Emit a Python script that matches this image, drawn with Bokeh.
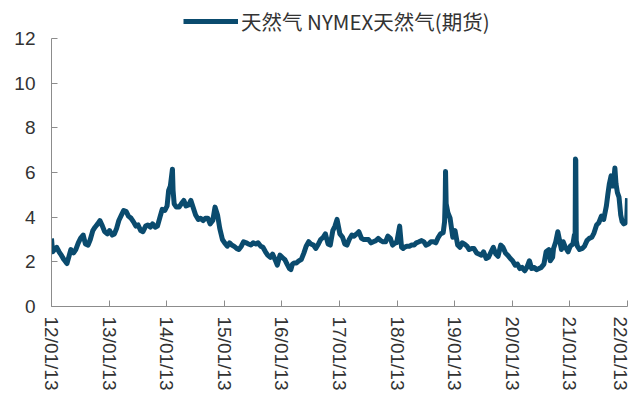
import pandas as pd
from bokeh.plotting import figure
from bokeh.layouts import column
from bokeh.models import Range1d, FixedTicker, Legend, LegendItem, ColumnDataSource
from bokeh.embed import file_html
from bokeh.resources import INLINE

series_name = "天然气 NYMEX天然气(期货)"

dates = [
    "2012-01-13", "2012-01-20", "2012-02-01", "2012-02-15", "2012-03-01", "2012-03-15", "2012-04-01", "2012-04-20",
    "2012-05-01", "2012-05-15", "2012-06-01", "2012-06-15", "2012-07-01", "2012-07-15", "2012-08-01", "2012-08-15",
    "2012-09-01", "2012-09-15", "2012-10-01", "2012-10-15", "2012-11-01", "2012-11-15", "2012-12-01", "2012-12-15",
    "2013-01-01", "2013-01-15", "2013-02-01", "2013-02-15", "2013-03-01", "2013-03-15", "2013-04-01", "2013-04-15",
    "2013-05-01", "2013-05-15", "2013-06-01", "2013-06-15", "2013-07-01", "2013-07-15", "2013-08-01", "2013-08-15",
    "2013-09-01", "2013-09-15", "2013-10-01", "2013-10-15", "2013-11-01", "2013-11-15", "2013-12-01", "2013-12-15",
    "2014-01-01", "2014-01-15", "2014-01-25", "2014-02-05", "2014-02-18", "2014-02-22", "2014-03-01", "2014-03-15",
    "2014-04-01", "2014-04-15", "2014-05-01", "2014-05-15", "2014-06-01", "2014-06-15", "2014-07-01", "2014-07-15",
    "2014-08-01", "2014-08-15", "2014-09-01", "2014-09-15", "2014-10-01", "2014-10-15", "2014-11-01", "2014-11-15",
    "2014-12-01", "2014-12-15",
    "2015-01-01", "2015-01-15", "2015-02-01", "2015-02-15", "2015-03-01", "2015-03-15", "2015-04-01", "2015-04-15",
    "2015-05-01", "2015-05-15", "2015-06-01", "2015-06-15", "2015-07-01", "2015-07-15", "2015-08-01", "2015-08-15",
    "2015-09-01", "2015-09-15", "2015-10-01", "2015-10-15", "2015-11-01", "2015-11-15", "2015-12-01", "2015-12-15",
    "2016-01-01", "2016-01-15", "2016-02-01", "2016-02-15", "2016-03-01", "2016-03-10", "2016-03-20", "2016-04-01",
    "2016-04-15", "2016-05-01", "2016-05-15", "2016-06-01", "2016-06-15", "2016-07-01", "2016-07-15", "2016-08-01",
    "2016-08-15", "2016-09-01", "2016-09-15", "2016-10-01", "2016-10-15", "2016-11-01", "2016-11-15", "2016-12-01",
    "2016-12-15", "2016-12-28",
    "2017-01-15", "2017-02-01", "2017-02-15", "2017-03-01", "2017-03-15", "2017-04-01", "2017-04-15", "2017-05-01",
    "2017-05-15", "2017-06-01", "2017-06-15", "2017-07-01", "2017-07-15", "2017-08-01", "2017-08-15", "2017-09-01",
    "2017-09-15", "2017-10-01", "2017-10-15", "2017-11-01", "2017-11-15", "2017-12-01", "2017-12-15",
    "2018-01-01", "2018-01-10", "2018-01-29", "2018-02-10", "2018-02-20", "2018-03-01", "2018-03-15", "2018-04-01",
    "2018-04-15", "2018-05-01", "2018-05-15", "2018-06-01", "2018-06-15", "2018-07-01", "2018-07-15", "2018-08-01",
    "2018-08-15", "2018-09-01", "2018-09-15", "2018-10-01", "2018-10-15", "2018-11-01", "2018-11-10", "2018-11-14",
    "2018-11-16", "2018-11-20", "2018-12-01", "2018-12-15",
    "2019-01-01", "2019-01-15", "2019-02-01", "2019-02-15", "2019-03-01", "2019-03-15", "2019-04-01", "2019-04-15",
    "2019-05-01", "2019-05-15", "2019-06-01", "2019-06-15", "2019-07-01", "2019-07-15", "2019-08-01", "2019-08-15",
    "2019-09-01", "2019-09-15", "2019-10-01", "2019-10-15", "2019-11-01", "2019-11-15", "2019-12-01", "2019-12-15",
    "2020-01-01", "2020-01-15", "2020-02-01", "2020-02-15", "2020-03-01", "2020-03-15", "2020-04-01", "2020-04-15",
    "2020-05-01", "2020-05-15", "2020-06-01", "2020-06-15", "2020-07-01", "2020-07-15", "2020-08-01", "2020-08-15",
    "2020-09-01", "2020-09-10", "2020-09-25", "2020-10-01", "2020-10-15", "2020-10-28", "2020-11-10", "2020-11-20",
    "2020-12-01", "2020-12-15",
    "2021-01-01", "2021-01-15", "2021-02-01", "2021-02-10", "2021-02-15", "2021-02-17", "2021-02-19", "2021-02-22",
    "2021-03-01", "2021-03-15", "2021-04-01", "2021-04-15", "2021-05-01", "2021-05-15", "2021-06-01", "2021-06-15",
    "2021-07-01", "2021-07-15", "2021-08-01", "2021-08-15", "2021-09-01", "2021-09-10", "2021-09-20", "2021-10-01",
    "2021-10-08", "2021-10-15", "2021-10-25", "2021-11-01", "2021-11-10", "2021-11-20", "2021-12-01", "2021-12-10",
    "2021-12-20",
    "2022-01-01", "2022-01-08", "2022-01-13",
]

prices = [
    3.05, 2.45, 2.55, 2.65, 2.45, 2.30, 2.10, 1.92,
    2.20, 2.55, 2.40, 2.55, 2.85, 3.05, 3.20, 2.80,
    2.75, 3.00, 3.40, 3.55, 3.70, 3.85, 3.60, 3.35,
    3.25, 3.40, 3.20, 3.25, 3.50, 3.85, 4.10, 4.30,
    4.25, 4.05, 3.95, 3.80, 3.60, 3.65, 3.40, 3.35,
    3.60, 3.65, 3.55, 3.70, 3.55, 3.60, 4.00, 4.35,
    4.30, 4.50, 5.20, 5.40, 6.15, 5.20, 4.60, 4.45,
    4.45, 4.60, 4.75, 4.50, 4.55, 4.75, 4.40, 4.10,
    3.90, 3.95, 3.85, 3.95, 3.95, 3.70, 3.85, 4.45,
    4.10, 3.50,
    3.00, 2.85, 2.70, 2.85, 2.75, 2.70, 2.60, 2.55,
    2.70, 2.90, 2.85, 2.80, 2.75, 2.85, 2.80, 2.85,
    2.70, 2.65, 2.45, 2.30, 2.20, 2.35, 2.10, 1.85,
    2.30, 2.20, 2.10, 1.90, 1.70, 1.65, 1.90, 1.95,
    1.95, 2.05, 2.10, 2.40, 2.70, 2.90, 2.80, 2.75,
    2.60, 2.80, 3.00, 3.10, 3.25, 2.80, 2.75, 3.40,
    3.60, 3.90,
    3.25, 3.10, 2.80, 2.75, 3.00, 3.20, 3.15, 3.25,
    3.35, 3.05, 3.00, 3.00, 3.00, 2.85, 2.90, 2.95,
    3.05, 2.95, 2.90, 2.90, 3.15, 3.05, 2.75,
    2.85, 2.85, 3.60, 2.65, 2.60, 2.65, 2.70, 2.70,
    2.75, 2.75, 2.85, 2.90, 2.95, 2.90, 2.75, 2.80,
    2.90, 2.90, 2.85, 3.10, 3.25, 3.30, 3.80, 4.80,
    6.05, 4.60, 4.20, 3.95,
    3.10, 3.40, 2.75, 2.65, 2.85, 2.80, 2.70, 2.55,
    2.60, 2.60, 2.40, 2.35, 2.30, 2.45, 2.15, 2.20,
    2.45, 2.65, 2.35, 2.25, 2.75, 2.65, 2.40, 2.30,
    2.15, 2.05, 1.85, 1.90, 1.70, 1.75, 1.60, 1.75,
    2.05, 1.70, 1.75, 1.65, 1.70, 1.75, 1.90, 2.45,
    2.55, 2.05, 2.20, 2.60, 2.90, 3.35, 2.90, 2.55,
    2.90, 2.65,
    2.45, 2.70, 2.80, 3.20, 3.25, 6.60, 6.55, 2.95,
    2.70, 2.55, 2.60, 2.70, 2.95, 3.05, 3.10, 3.30,
    3.65, 3.75, 4.05, 3.90, 4.50, 5.00, 5.50, 5.85,
    5.40, 5.40, 6.20, 5.50, 5.10, 4.90, 4.10, 3.80,
    3.70,
    3.75, 3.90, 4.85,
]

tick_dates = ["2012-01-13", "2013-01-13", "2014-01-13", "2015-01-13", "2016-01-13", "2017-01-13",
              "2018-01-13", "2019-01-13", "2020-01-13", "2021-01-13", "2022-01-13"]
tick_labels = ["12/01/13", "13/01/13", "14/01/13", "15/01/13", "16/01/13", "17/01/13",
               "18/01/13", "19/01/13", "20/01/13", "21/01/13", "22/01/13"]
y_ticks = [0, 2, 4, 6, 8, 10, 12]

LINE_COLOR = "#0a4b6e"


def to_ms(ds):
    return [float(v) for v in (pd.to_datetime(ds).astype("int64") // 10**6)]


src = ColumnDataSource(dict(x=to_ms(dates), y=prices))
tick_ms = to_ms(tick_dates)

# main chart (transparent border, slid up under the legend strip)
p = figure(width=630, height=371, output_backend="svg", toolbar_location=None,
           x_range=Range1d(tick_ms[0], tick_ms[-1]), y_range=Range1d(0, 12),
           min_border_left=51, min_border_right=3, min_border_top=16, min_border_bottom=85,
           border_fill_color=None, background_fill_color=None)
p.styles = {"margin-top": "-14px"}

p.line("x", "y", source=src, line_color=LINE_COLOR, line_width=5, line_join="round")

p.outline_line_color = None
p.xgrid.visible = False
p.ygrid.visible = False

for ax in (p.xaxis[0], p.yaxis[0]):
    ax.axis_line_color = "#8c8c8c"
    ax.major_tick_line_color = "#8c8c8c"
    ax.major_tick_in = 6
    ax.major_tick_out = 0
    ax.minor_tick_line_color = None
    ax.major_label_text_font = "Liberation Sans"
    ax.major_label_text_font_size = "19px"
    ax.major_label_text_color = "#333333"

p.xaxis[0].ticker = FixedTicker(ticks=tick_ms)
p.xaxis[0].major_label_overrides = {t: lab for t, lab in zip(tick_ms, tick_labels)}
p.xaxis[0].major_label_orientation = "vertical"
p.xaxis[0].major_label_standoff = 10

p.yaxis[0].ticker = FixedTicker(ticks=y_ticks)
p.yaxis[0].major_label_standoff = 16

# legend strip above the chart (same series; its ranges keep the line out of view)
pl = figure(width=630, height=36, output_backend="svg", toolbar_location=None,
            x_axis_location=None, y_axis_location=None,
            x_range=Range1d(0, 1), y_range=Range1d(0, 1),
            min_border_left=0, min_border_right=0, min_border_top=0, min_border_bottom=0)
pl.outline_line_color = None
pl.xgrid.visible = False
pl.ygrid.visible = False
r_leg = pl.line("x", "y", source=src, line_color=LINE_COLOR, line_width=5)

legend = Legend(items=[LegendItem(label=series_name, renderers=[r_leg])],
                location=(132, 0), orientation="horizontal",
                glyph_width=55, glyph_height=20, label_standoff=3, label_height=20,
                padding=0, margin=0, spacing=0,
                background_fill_alpha=0, border_line_color=None,
                label_text_font="Noto Sans CJK SC", label_text_font_size="20.5px",
                label_text_color="#333333")
pl.add_layout(legend, "center")

layout = column(pl, p, spacing=0)

open("out.html", "w").write(file_html(layout, INLINE))
